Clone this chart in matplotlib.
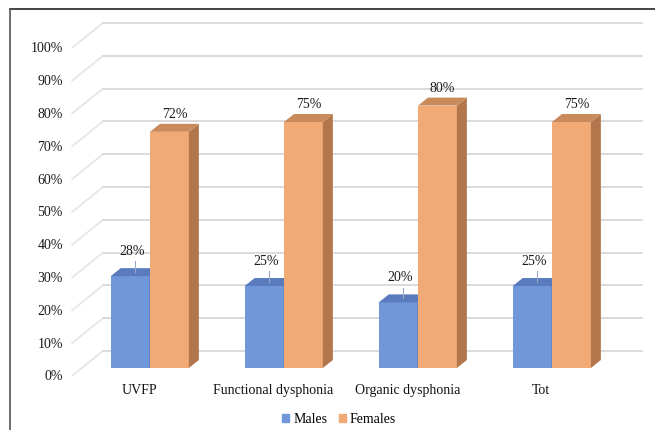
import matplotlib
matplotlib.use("Agg")
import matplotlib.pyplot as plt
from matplotlib.patches import Polygon, Patch
from matplotlib.lines import Line2D

categories = ["UVFP", "Functional dysphonia", "Organic dysphonia", "Tot"]
males = [28, 25, 20, 25]
females = [72, 75, 80, 75]
ticks = [0, 10, 20, 30, 40, 50, 60, 70, 80, 90, 100]

plt.rcParams["font.family"] = ["Liberation Serif", "DejaVu Serif"]
plt.rcParams["font.size"] = 10

W, H = 655, 431
fig = plt.figure(figsize=(W / 100, H / 100), dpi=100)
ax = fig.add_axes([0, 0, 1, 1])
ax.axis("off")

# pixel -> data mapping (category spacing 134px, 3.28px per percent)
xstep, ypp = 134.0, 3.28
x0px, y0px = 150, 369
ax.set_xlim(-x0px / xstep, (W - x0px) / xstep)
ax.set_ylim((y0px - H) / ypp, y0px / ypp)

# 3d offsets
ddx, ddy = 10 / xstep, 8 / ypp          # bar depth
back_dy = 17 / ypp                      # back wall raise
front_dy = -8 / ypp                     # front edge (tick labels)
left_front, left_back, right_back = (72 - x0px) / xstep, (103 - x0px) / xstep, (642 - x0px) / xstep

for t in ticks:
    # side wall (faint diagonal) + back wall gridline
    ax.plot([left_front, left_back], [t + front_dy, t + back_dy],
            color="#e6e6e6", lw=1.3, zorder=1, solid_capstyle="round")
    ax.plot([left_back, right_back], [t + back_dy, t + back_dy],
            color="#dadada", lw=1.4, zorder=1, solid_capstyle="round")
    ax.text((63 - x0px) / xstep, t + front_dy, f"{t}%", ha="right", va="center", color="#1a1a1a")

width = 0.29
colors = {
    "m": ("#7097d9", "#5a7bbd", "#4f6ca8"),
    "f": ("#f1a975", "#c98a5c", "#b2764c"),
}

def draw_bars(xs, vals, key, z):
    front, top, side = colors[key]
    ax.bar(xs, vals, width, color=front, zorder=z, linewidth=0)
    for x, v in zip(xs, vals):
        xl, xr = x - width / 2, x + width / 2
        ax.add_patch(Polygon([(xr, 0), (xr + ddx, ddy), (xr + ddx, v + ddy), (xr, v)],
                             closed=True, color=side, lw=0, zorder=z))
        ax.add_patch(Polygon([(xl, v), (xl + ddx, v + ddy), (xr + ddx, v + ddy), (xr, v)],
                             closed=True, color=top, lw=0, zorder=z))

idx = list(range(len(categories)))
xm = [i - width / 2 - 0.003 for i in idx]
xf = [i + width / 2 for i in idx]
draw_bars(xm, males, "m", 3)
draw_bars(xf, females, "f", 4)

for x, v in zip(xm, males):
    ax.plot([x + ddx / 2, x + ddx / 2], [v + ddy / 2, v + 4.5], color="#9aa9c8", lw=0.8, zorder=5)
    ax.text(x + ddx / 2 - 0.02, v + 7.8, f"{v}%", ha="center", va="center", color="#1a1a1a", zorder=6)
for x, v in zip(xf, females):
    ax.text(x + ddx / 2, v + 5.6, f"{v}%", ha="center", va="center", color="#1a1a1a", zorder=6)

for i, c in zip(idx, categories):
    ax.text(i - 0.08, (y0px - 391) / ypp, c, ha="center", va="center", color="#111111")

handles = [Patch(color=colors["m"][0], label="Males"), Patch(color=colors["f"][0], label="Females")]
fig.legend(handles=handles, loc="center", bbox_to_anchor=(0.518, 1 - 420 / H), ncol=2,
           frameon=False, handlelength=0.5, handleheight=0.5, handletextpad=0.3, columnspacing=0.8)

# frame lines (top and left only)
fig.add_artist(Line2D([10 / W, 1], [1 - 10 / H, 1 - 10 / H], color="#222222", lw=1.2, transform=fig.transFigure))
fig.add_artist(Line2D([10 / W, 10 / W], [0, 1 - 10 / H], color="#555555", lw=1.2, transform=fig.transFigure))

fig.savefig("out.png", dpi=100)
